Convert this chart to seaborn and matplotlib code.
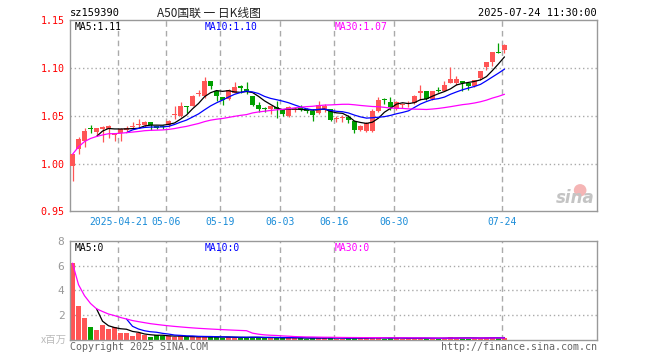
import numpy as np
import pandas as pd
import matplotlib
matplotlib.use('Agg')
import matplotlib.pyplot as plt
from matplotlib.patches import Ellipse
import seaborn as sns

# daily candles for sz159390, 2025-04-09 .. 2025-07-24 (73 trading days)
opens = [0.9975, 1.0156, 1.0236, 1.0370, 1.0330, 1.0357, 1.0357, 1.0295, 1.0316, 1.0350,
         1.0385, 1.0400, 1.0400, 1.0440, 1.0390, 1.0395, 1.0400, 1.0510, 1.0503, 1.0600,
         1.0607, 1.0725, 1.0711, 1.0868, 1.0756, 1.0698, 1.0677, 1.0740, 1.0808, 1.0780,
         1.0711, 1.0618, 1.0570, 1.0566, 1.0590, 1.0566, 1.0496, 1.0560, 1.0596, 1.0573,
         1.0555, 1.0530, 1.0576, 1.0566, 1.0465, 1.0475, 1.0486, 1.0444, 1.0350, 1.0340,
         1.0340, 1.0548, 1.0666, 1.0642, 1.0576, 1.0615, 1.0625, 1.0635, 1.0743, 1.0756,
         1.0680, 1.0760, 1.0756, 1.0844, 1.0844, 1.0868, 1.0844, 1.0808, 1.0896, 1.1006,
         1.1059, 1.1160, 1.1190]
highs = [1.0100, 1.0280, 1.0375, 1.0400, 1.0368, 1.0390, 1.0400, 1.0325, 1.0370, 1.0390,
         1.0440, 1.0469, 1.0450, 1.0440, 1.0395, 1.0400, 1.0460, 1.0600, 1.0640, 1.0600,
         1.0720, 1.0774, 1.0910, 1.0868, 1.0756, 1.0698, 1.0777, 1.0850, 1.0826, 1.0857,
         1.0711, 1.0640, 1.0590, 1.0605, 1.0660, 1.0566, 1.0598, 1.0595, 1.0610, 1.0580,
         1.0573, 1.0660, 1.0625, 1.0566, 1.0500, 1.0505, 1.0510, 1.0444, 1.0405, 1.0430,
         1.0573, 1.0694, 1.0690, 1.0698, 1.0650, 1.0636, 1.0656, 1.0720, 1.0826, 1.0756,
         1.0764, 1.0800, 1.0868, 1.1006, 1.0914, 1.0868, 1.0844, 1.0878, 1.0965, 1.1059,
         1.1163, 1.1260, 1.1250]
lows = [0.9820, 1.0097, 1.0177, 1.0320, 1.0288, 1.0230, 1.0270, 1.0236, 1.0236, 1.0330,
        1.0357, 1.0375, 1.0380, 1.0350, 1.0365, 1.0365, 1.0385, 1.0470, 1.0490, 1.0530,
        1.0600, 1.0705, 1.0688, 1.0780, 1.0650, 1.0610, 1.0670, 1.0740, 1.0740, 1.0730,
        1.0600, 1.0537, 1.0537, 1.0520, 1.0480, 1.0496, 1.0490, 1.0545, 1.0550, 1.0530,
        1.0450, 1.0520, 1.0545, 1.0444, 1.0440, 1.0430, 1.0427, 1.0323, 1.0345, 1.0330,
        1.0330, 1.0535, 1.0625, 1.0560, 1.0560, 1.0580, 1.0594, 1.0625, 1.0670, 1.0670,
        1.0670, 1.0745, 1.0756, 1.0844, 1.0826, 1.0756, 1.0767, 1.0798, 1.0875, 1.0975,
        1.1017, 1.1155, 1.1160]
closes = [1.0097, 1.0253, 1.0340, 1.0360, 1.0368, 1.0378, 1.0390, 1.0316, 1.0357, 1.0375,
          1.0390, 1.0406, 1.0440, 1.0400, 1.0375, 1.0385, 1.0450, 1.0514, 1.0600, 1.0590,
          1.0711, 1.0730, 1.0868, 1.0808, 1.0704, 1.0670, 1.0767, 1.0800, 1.0788, 1.0746,
          1.0618, 1.0566, 1.0566, 1.0600, 1.0566, 1.0524, 1.0594, 1.0573, 1.0575, 1.0550,
          1.0506, 1.0618, 1.0600, 1.0461, 1.0470, 1.0480, 1.0461, 1.0350, 1.0390, 1.0420,
          1.0548, 1.0670, 1.0662, 1.0590, 1.0642, 1.0618, 1.0628, 1.0711, 1.0746, 1.0680,
          1.0764, 1.0756, 1.0826, 1.0885, 1.0885, 1.0844, 1.0808, 1.0878, 1.0965, 1.1059,
          1.1163, 1.1155, 1.1243]
# volume in millions of shares
volumes = [6.19, 2.72, 1.79, 1.07, 0.80, 1.20, 0.88, 1.07, 0.59, 0.59,
           0.32, 0.53, 0.40, 0.27, 0.40, 0.32, 0.30, 0.28, 0.30, 0.22,
           0.25, 0.22, 0.30, 0.22, 0.25, 0.20, 0.22, 0.20, 0.18, 0.22,
           0.25, 0.20, 0.15, 0.18, 0.20, 0.18, 0.20, 0.15, 0.15, 0.12,
           0.18, 0.20, 0.15, 0.22, 0.12, 0.12, 0.15, 0.22, 0.15, 0.15,
           0.22, 0.22, 0.12, 0.18, 0.15, 0.10, 0.10, 0.15, 0.18, 0.12,
           0.12, 0.10, 0.18, 0.25, 0.15, 0.15, 0.12, 0.15, 0.18, 0.20,
           0.22, 0.20, 0.18]

tick_index = [8, 16, 25, 35, 44, 54, 72]
tick_labels = ['2025-04-21', '05-06', '05-19', '06-03', '06-16', '06-30', '07-24']

df = pd.DataFrame({'open': opens, 'high': highs, 'low': lows,
                   'close': closes, 'vol': volumes})
df['i'] = np.arange(len(df))
df['ma5'] = df['close'].rolling(5).mean()
df['ma10'] = df['close'].rolling(10).mean()
df['ma30'] = df['close'].rolling(30, min_periods=1).mean()
df['vma5'] = df['vol'].rolling(5).mean()
df['vma10'] = df['vol'].rolling(10).mean()
df['vma30'] = df['vol'].rolling(30, min_periods=1).mean()

RED = '#ff5555'
GREEN = '#00a000'
GRID = '#aaaaaa'
FRAME = '#999999'
MONO = 'DejaVu Sans Mono'
CJK = ['Noto Sans CJK SC', 'DejaVu Sans']

sns.set_theme(style='white')
plt.rcParams['font.family'] = ['DejaVu Sans Mono', 'Noto Sans CJK SC']

up = df['close'] >= df['open']
colors = np.where(up, RED, GREEN)

fig = plt.figure(figsize=(6.6, 3.6), dpi=100)


def fx(px):
    return px / 660


def fy(py):
    return 1 - py / 360


ax1 = fig.add_axes([fx(70), fy(211.3), 527 / 660, 191 / 360])
ax2 = fig.add_axes([fx(70), fy(340), 527 / 660, 99.3 / 360])

xmin, xmax = -0.42, 87.42
grid_x = [t - 0.35 for t in tick_index]

for ax in (ax1, ax2):
    ax.set_xlim(xmin, xmax)
    for s in ax.spines.values():
        s.set_color(FRAME)
        s.set_linewidth(1)
    for gx in grid_x:
        ax.axvline(gx, color=GRID, lw=1, ls=(0, (4, 3)), zorder=0)
    ax.tick_params(length=0)

# --- price panel ---
ax1.set_ylim(0.95, 1.15)
for gy in [1.00, 1.05, 1.10]:
    ax1.axhline(gy, color=GRID, lw=1, ls=(0, (1, 2)), zorder=0)

ax1.vlines(df['i'], df['low'], df['high'], colors=colors, lw=0.9, zorder=2)
body_lo = np.minimum(df['open'], df['close'])
body_h = np.maximum(np.abs(df['close'] - df['open']), 0.0012)
ax1.bar(df['i'], body_h, bottom=body_lo, width=0.8, color=colors, lw=0, zorder=3)

sns.lineplot(data=df, x='i', y='ma5', ax=ax1, color='black', lw=0.9, zorder=4)
sns.lineplot(data=df, x='i', y='ma10', ax=ax1, color='#0000ff', lw=0.9, zorder=4)
sns.lineplot(data=df, x='i', y='ma30', ax=ax1, color='#ff00ff', lw=0.9, zorder=4)

yt = [0.95, 1.00, 1.05, 1.10, 1.15]
ax1.set_yticks(yt)
ax1.set_yticklabels(['%.2f' % v for v in yt], color='#ff0000', fontsize=7.2, family=MONO)
ax1.set_xticks(grid_x)
ax1.set_xticklabels(tick_labels, color='#1a8cd8', fontsize=7, family=MONO)
ax1.tick_params(axis='y', pad=4)
ax1.tick_params(axis='x', pad=4)
ax1.set_xlabel('')
ax1.set_ylabel('')

ma_last = df.iloc[-1]
ax1.text(0.008, 0.965, 'MA5:%.2f' % ma_last['ma5'], transform=ax1.transAxes,
         color='black', fontsize=7, family=MONO, va='center')
ax1.text(0.255, 0.965, 'MA10:%.2f' % ma_last['ma10'], transform=ax1.transAxes,
         color='#0000ff', fontsize=7, family=MONO, va='center')
ax1.text(0.502, 0.965, 'MA30:%.2f' % ma_last['ma30'], transform=ax1.transAxes,
         color='#ff00ff', fontsize=7, family=MONO, va='center')

# sina watermark
ax1.add_patch(Ellipse((0.968, 0.11), 0.024, 0.065, transform=ax1.transAxes,
                      color='#f5b5b5', lw=0, zorder=1))
ax1.text(0.996, 0.02, 'sina', transform=ax1.transAxes, ha='right', va='bottom',
         fontsize=12, fontweight='bold', style='italic', color='#c4c4c4',
         family='DejaVu Sans', zorder=1)

# --- volume panel ---
ax2.set_ylim(0, 8)
for gy in [2, 4, 6]:
    ax2.axhline(gy, color=GRID, lw=1, ls=(0, (1, 2)), zorder=0)
ax2.bar(df['i'], df['vol'], width=0.8, color=colors, lw=0, zorder=2)
sns.lineplot(data=df, x='i', y='vma5', ax=ax2, color='black', lw=0.9, zorder=4)
sns.lineplot(data=df, x='i', y='vma10', ax=ax2, color='#0000ff', lw=0.9, zorder=4)
sns.lineplot(data=df, x='i', y='vma30', ax=ax2, color='#ff00ff', lw=0.9, zorder=4)
ax2.set_yticks([2, 4, 6, 8])
ax2.set_yticklabels(['2', '4', '6', '8'], color='#999999', fontsize=8, family=MONO)
ax2.tick_params(axis='y', pad=4)
ax2.set_xticks([])
ax2.set_xlabel('')
ax2.set_ylabel('')
ax2.text(0.008, 0.93, 'MA5:0', transform=ax2.transAxes, color='black',
         fontsize=7, family=MONO, va='center')
ax2.text(0.255, 0.93, 'MA10:0', transform=ax2.transAxes, color='#0000ff',
         fontsize=7, family=MONO, va='center')
ax2.text(0.502, 0.93, 'MA30:0', transform=ax2.transAxes, color='#ff00ff',
         fontsize=7, family=MONO, va='center')

# --- header / footer texts ---
fig.text(fx(70), fy(13), 'sz159390', fontsize=7.5, family=MONO, va='center',
         color='black')
fig.text(fx(209), fy(13), 'A50国联 一 日K线图', fontsize=8.5, va='center',
         ha='center', color='#222222', family=CJK)
fig.text(fx(597), fy(13), '2025-07-24 11:30:00', fontsize=7.5, family=MONO,
         va='center', ha='right', color='black')
fig.text(fx(67), fy(340), 'x百万', fontsize=7.5, va='center', ha='right',
         color='#bbbbbb', family=CJK)
fig.text(fx(70), fy(347), 'Copyright 2025 SINA.COM', fontsize=7.2, family=MONO,
         va='center', color='#666666')
fig.text(fx(597), fy(347), 'http://finance.sina.com.cn', fontsize=7.2,
         family=MONO, va='center', ha='right', color='#666666')

fig.savefig('out.png', dpi=100)
